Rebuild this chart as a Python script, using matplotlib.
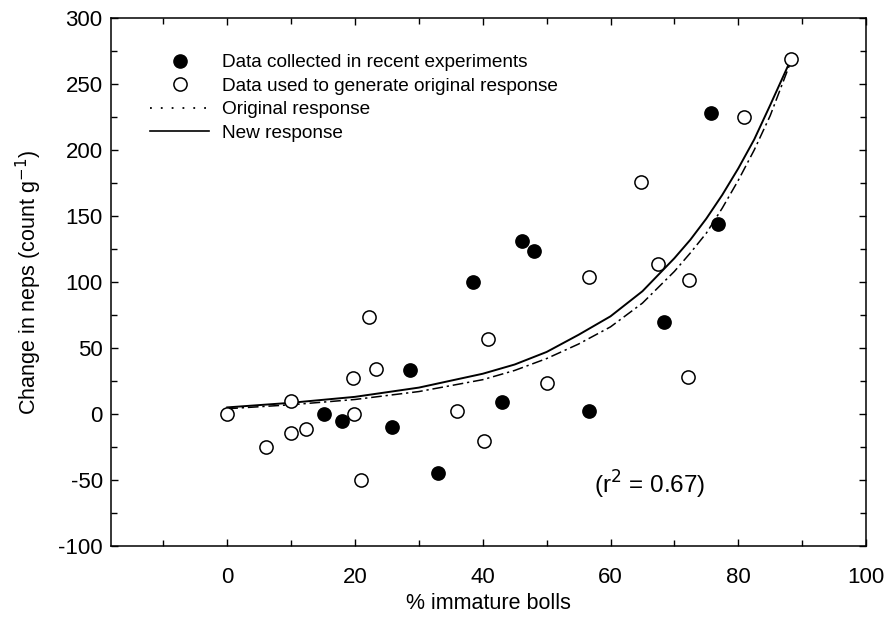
"""Change in neps vs. % immature bolls, with original and new exponential responses."""

import matplotlib

matplotlib.use("Agg")
import matplotlib.pyplot as plt
from matplotlib.lines import Line2D

plt.rcParams["font.family"] = ["Liberation Sans", "DejaVu Sans"]
plt.rcParams["axes.unicode_minus"] = False

# Data collected in recent experiments (filled circles)
new_x = [15.2, 18.0, 25.8, 28.6, 33.0, 38.5, 43.0, 46.2, 48.0, 56.7, 68.4, 75.7, 76.8]
new_y = [0.0, -5.3, -10.0, 33.0, -45.0, 100.0, 9.0, 131.0, 123.5, 2.3, 69.7, 228.0, 144.0]

# Data used to generate the original response (open circles)
orig_x = [0.0, 6.0, 10.0, 10.0, 12.4, 19.7, 19.9, 21.0, 22.2, 23.3, 36.0, 40.2,
          40.9, 50.1, 56.7, 64.8, 67.4, 72.2, 72.3, 80.9, 88.3]
orig_y = [0.0, -25.0, 9.8, -14.6, -11.6, 27.0, 0.0, -50.0, 73.5, 34.0, 2.3, -20.5,
          57.0, 23.5, 104.0, 176.0, 113.6, 28.0, 101.5, 225.0, 269.0]

# Response curves
curve_x = [0, 10, 20, 30, 40, 45, 50, 55, 60, 65, 70, 72.5, 75, 77.5, 80, 82.5, 85, 88]
new_resp = [5.0, 8.5, 13.0, 20.0, 30.5, 37.5, 47.0, 60.0, 74.0, 93.0, 118.0, 132.0,
            148.0, 166.0, 186.0, 208.0, 234.0, 266.0]
orig_resp = [4.0, 7.0, 11.0, 17.0, 26.0, 33.0, 42.0, 53.0, 66.0, 84.0, 108.0, 122.0,
             137.0, 156.0, 177.0, 200.0, 226.0, 264.0]

fig = plt.figure(figsize=(8.85, 6.28), dpi=100)
ax = fig.add_axes([111 / 885, 1 - 546 / 628, 755 / 885, 528 / 628])

ax.plot(curve_x, orig_resp, color="black", lw=1.1, linestyle=(0, (7, 2.5, 1.5, 2.5)))
ax.plot(curve_x, new_resp, color="black", lw=1.4)
ax.plot(orig_x, orig_y, "o", ms=9.5, mfc="white", mec="black", mew=1.1)
ax.plot(new_x, new_y, "o", ms=9.5, mfc="black", mec="black", mew=1.1)

ax.set_xlim(-18.2, 100)
ax.set_ylim(-100, 300)
ax.set_xticks([0, 20, 40, 60, 80, 100])
ax.set_xticks(range(-10, 100, 10), minor=True)
ax.set_yticks(range(-100, 301, 50))
ax.set_yticks(range(-75, 300, 25), minor=True)
ax.tick_params(which="both", direction="in", top=True, right=True, labelsize=16)
ax.tick_params(which="major", length=5, width=1)
ax.tick_params(which="minor", length=4, width=1)
ax.tick_params(axis="x", pad=15)
ax.tick_params(axis="y", pad=6)
for s in ax.spines.values():
    s.set_linewidth(1.1)

ax.set_xlabel("% immature bolls", fontsize=15.5, labelpad=4)
ax.set_ylabel("Change in neps (count g$^{-1}$)", fontsize=15.5, labelpad=10)

ax.text(66.1, -54, "(r$^2$ = 0.67)", fontsize=17.5, ha="center", va="center")

handles = [
    Line2D([], [], ls="none", marker="o", ms=9.5, mfc="black", mec="black"),
    Line2D([], [], ls="none", marker="o", ms=9.5, mfc="white", mec="black", mew=1.1),
    Line2D([], [], color="black", lw=1.3, ls=(0, (1, 5))),
    Line2D([], [], color="black", lw=1.2),
]
labels = [
    "Data collected in recent experiments",
    "Data used to generate original response",
    "Original response",
    "New response",
]
ax.legend(handles, labels, loc="upper left", bbox_to_anchor=(0.0517, 0.932),
          frameon=False, fontsize=13.7, borderpad=0, borderaxespad=0,
          handlelength=3.1, handletextpad=0.7, labelspacing=0.33)

fig.savefig("out.png", dpi=100)
